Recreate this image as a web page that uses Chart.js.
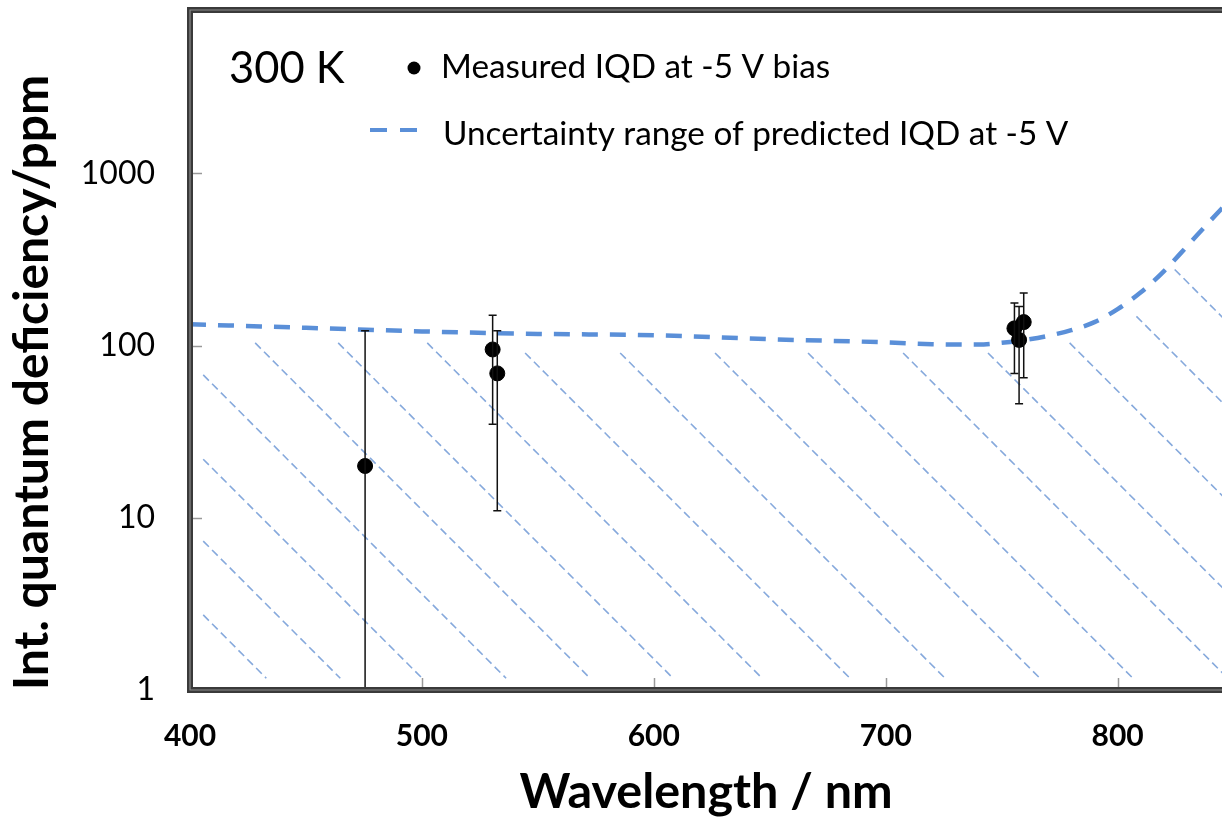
<!DOCTYPE html>
<html>
<head>
<meta charset="utf-8">
<script src="https://cdn.jsdelivr.net/npm/chart.js@4.4.1/dist/chart.umd.min.js"></script>
<style>
  body { margin: 0; background: #fff; overflow: hidden; }
  canvas { display: block; }
</style>
</head>
<body>
<canvas id="chart" width="1222" height="821"></canvas>
<script>
// axis ticks
const xTicks = [400, 500, 600, 700, 800];
const yTicks = [1, 10, 100, 1000];

// measured IQD at -5 V bias (nm, ppm) with error bar ends
const measX = [475.5, 530.5, 532.5, 755.5, 757.5, 759.5];
const measY = [20, 95, 69, 126, 108, 137];
const errHigh = [122, 150, 122, 177, 169, 202];
const errLow = [0.5, 35, 11, 69, 46, 65];

// uncertainty range of predicted IQD (upper bound)
const curveX = [400, 450, 500, 550, 600, 650, 700, 720, 740, 750, 760, 770, 780, 790, 800, 810, 820, 830, 840, 850];
const curveY = [133, 127, 121, 117, 115, 109, 104.5, 102, 101.4, 104, 108, 114, 123, 137, 163, 204, 271, 379, 532, 740];

// hatch lines under the curve: start and end points (nm, ppm)
const hatchX0 = [405.7, 405.7, 405.7, 405.7, 428.1, 463.9, 502.3, 544.5, 585.5, 626.4, 666.5, 707.5, 744.1, 779.3, 808.1, 824.6];
const hatchY0 = [2.73, 7.32, 21.9, 67.6, 103.7, 103.7, 103.7, 90.7, 90.7, 90.7, 90.7, 90.7, 90.7, 103.7, 148, 277];
const hatchX1 = [432.9, 464.8, 500.1, 536.3, 572.5, 608.3, 646.7, 684.6, 725.6, 766.5, 806.6, 847.5, 884.2, 923.8, 963.9, 1000.6];
const hatchY1 = [1.17, 1.17, 1.17, 1.17, 1.17, 1.17, 1.17, 1.17, 1.17, 1.17, 1.17, 1.17, 1.17, 1.17, 1.17, 1.17];

const BLUE = '#5a8fd8';
const HATCH = '#86a9dc';

Chart.defaults.font.family = 'Lato';
Chart.defaults.color = '#000';

const hatchSets = hatchX0.map((x0, i) => ({
  data: [{x: x0, y: hatchY0[i]}, {x: hatchX1[i], y: hatchY1[i]}],
  showLine: true,
  borderColor: HATCH,
  borderWidth: 1.6,
  borderDash: [8, 4.5],
  pointRadius: 0,
  order: 3
}));

const decor = {
  id: 'decor',
  afterDatasetsDraw(chart) {
    const {ctx, chartArea: ca, scales: {x, y}} = chart;
    ctx.save();
    ctx.beginPath();
    ctx.rect(ca.left, ca.top, ca.right - ca.left, ca.bottom - ca.top);
    ctx.clip();
    // error bars
    ctx.strokeStyle = '#111';
    ctx.lineWidth = 1.5;
    measX.forEach((wl, i) => {
      const px = x.getPixelForValue(wl);
      const top = y.getPixelForValue(errHigh[i]);
      const bot = y.getPixelForValue(errLow[i]);
      ctx.beginPath();
      ctx.moveTo(px, top); ctx.lineTo(px, bot);
      ctx.moveTo(px - 4, top); ctx.lineTo(px + 4, top);
      ctx.moveTo(px - 4, bot); ctx.lineTo(px + 4, bot);
      ctx.stroke();
    });
    // inward tick marks
    ctx.strokeStyle = '#999';
    ctx.lineWidth = 1.5;
    yTicks.slice(1).forEach(v => {
      const py = Math.round(y.getPixelForValue(v)) + 0.5;
      ctx.beginPath(); ctx.moveTo(ca.left, py); ctx.lineTo(ca.left + 12, py); ctx.stroke();
    });
    xTicks.slice(1).forEach(v => {
      const px = Math.round(x.getPixelForValue(v)) + 0.5;
      ctx.beginPath(); ctx.moveTo(px, ca.bottom); ctx.lineTo(px, ca.bottom - 12); ctx.stroke();
    });
    ctx.restore();
  },
  afterDraw(chart) {
    const {ctx, chartArea: ca} = chart;
    ctx.save();
    // frame (left, top, bottom)
    const frame = () => {
      ctx.beginPath();
      ctx.moveTo(ca.right + 5, ca.top);
      ctx.lineTo(ca.left, ca.top);
      ctx.lineTo(ca.left, ca.bottom);
      ctx.lineTo(ca.right + 5, ca.bottom);
      ctx.stroke();
    };
    ctx.lineJoin = 'miter';
    ctx.strokeStyle = '#3a3a3a'; ctx.lineWidth = 6; frame();
    ctx.strokeStyle = '#8c8c8c'; ctx.lineWidth = 1.2; frame();

    // legend
    ctx.fillStyle = '#000';
    ctx.textBaseline = 'alphabetic';
    ctx.font = '43.5px Lato';
    ctx.fillText('300 K', 229, 83);
    ctx.font = '33.3px Lato';
    ctx.fillText('Measured IQD at -5 V bias', 441, 78);
    ctx.fillText('Uncertainty range of predicted IQD at -5 V', 443, 145);
    ctx.beginPath();
    ctx.arc(414, 68, 6.5, 0, Math.PI * 2);
    ctx.fill();
    ctx.strokeStyle = BLUE;
    ctx.lineWidth = 4;
    ctx.beginPath();
    ctx.moveTo(370, 130); ctx.lineTo(387, 130);
    ctx.moveTo(400, 130); ctx.lineTo(417, 130);
    ctx.stroke();
    ctx.restore();
  }
};

new Chart(document.getElementById('chart'), {
  type: 'scatter',
  data: {
    datasets: [
      ...hatchSets,
      {
        data: curveX.map((v, i) => ({x: v, y: curveY[i]})),
        showLine: true,
        borderColor: BLUE,
        borderWidth: 4.5,
        borderDash: [16, 12],
        cubicInterpolationMode: 'monotone',
        pointRadius: 0,
        order: 2
      },
      {
        data: measX.map((v, i) => ({x: v, y: measY[i]})),
        backgroundColor: '#000',
        borderColor: '#000',
        pointRadius: 7.5,
        order: 1
      }
    ]
  },
  options: {
    responsive: false,
    animation: false,
    layout: { autoPadding: false, padding: { top: 10, right: 0, left: 0, bottom: 0 } },
    plugins: { legend: { display: false }, tooltip: { enabled: false } },
    scales: {
      x: {
        type: 'linear',
        min: 400,
        max: 845,
        grid: { display: false, drawTicks: false },
        border: { display: false },
        afterBuildTicks: s => { s.ticks = xTicks.map(v => ({value: v})); },
        afterFit: s => { s.height = 131; s.paddingLeft = 0; s.paddingRight = 0; },
        ticks: { font: { size: 30, weight: 'bold' }, padding: 28, maxRotation: 0, callback: v => String(v) },
        title: { display: true, text: 'Wavelength / nm', font: { size: 48.5, weight: 'bold' }, padding: { top: 0, bottom: 0 } }
      },
      y: {
        type: 'logarithmic',
        min: 1,
        max: 8900,
        grid: { display: false, drawTicks: false },
        border: { display: false },
        afterBuildTicks: s => { s.ticks = yTicks.map(v => ({value: v})); },
        afterFit: s => { s.width = 190; s.paddingTop = 0; s.paddingBottom = 0; },
        ticks: { font: { size: 32 }, padding: 35, callback: v => String(v) },
        title: { display: true, text: 'Int. quantum deficiency/ppm', align: 'start', font: { size: 48, weight: 'bold' }, padding: { top: 4, bottom: 0 } }
      }
    }
  },
  plugins: [decor]
});
</script>
</body>
</html>
